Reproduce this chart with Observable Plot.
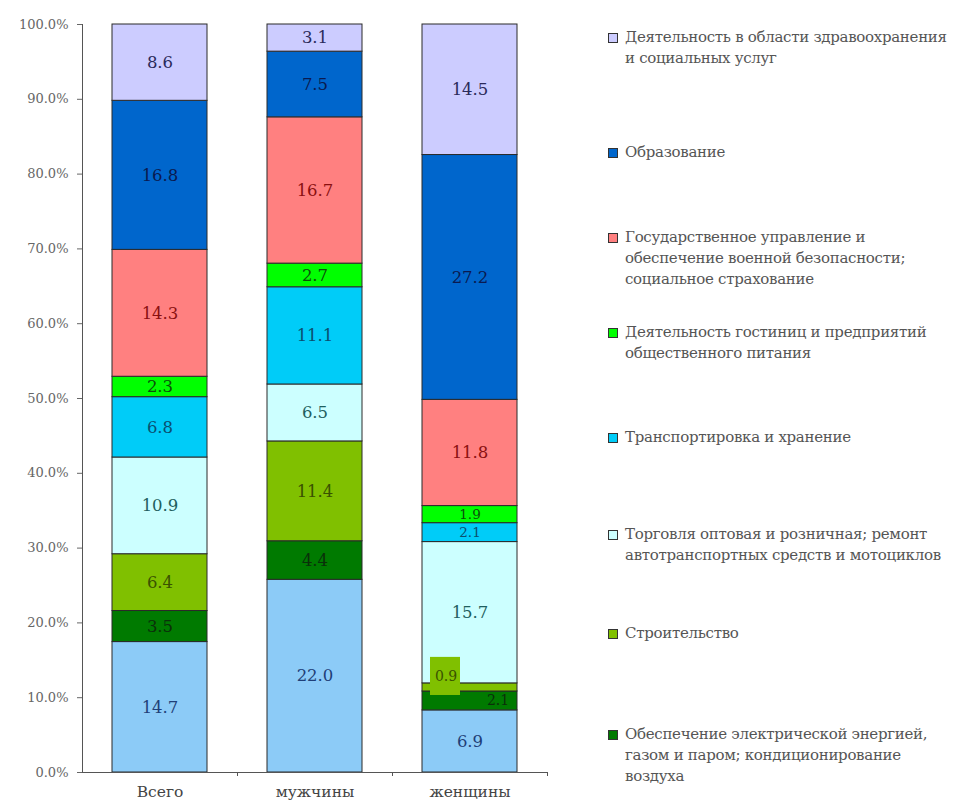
<!DOCTYPE html>
<html><head><meta charset="utf-8">
<script src="https://cdn.jsdelivr.net/npm/d3@7"></script>
<script src="https://cdn.jsdelivr.net/npm/@observablehq/plot@0.6"></script>
<style>
body{margin:0;background:#fff;}
#wrap{position:relative;width:957px;height:807px;font-family:"DejaVu Serif","Liberation Serif",serif;background:#fff;}
#chart{position:absolute;left:0;top:0;}
#chart svg text{font-family:"DejaVu Serif","Liberation Serif",serif;}
.leg{position:absolute;left:607px;font-size:15px;color:#555;line-height:21px;letter-spacing:-0.3px;}
.leg .sw{position:absolute;left:1px;top:6px;width:8px;height:8px;border:1px solid #333;}
.leg .tx{margin-left:18px;white-space:nowrap;}
</style></head>
<body><div id="wrap"><div id="chart"></div><div id="legend"></div></div>
<script>
// Groups (x categories)
const groups = ["Всего", "мужчины", "женщины"];
// Categories in stacking order (bottom to top)
const categories = [
  "Обрабатывающие производства",
  "Обеспечение электрической энергией, газом и паром; кондиционирование воздуха",
  "Строительство",
  "Торговля оптовая и розничная; ремонт автотранспортных средств и мотоциклов",
  "Транспортировка и хранение",
  "Деятельность гостиниц и предприятий общественного питания",
  "Государственное управление и обеспечение военной безопасности; социальное страхование",
  "Образование",
  "Деятельность в области здравоохранения и социальных услуг"
];
// Series values
const valuesTotal = [14.7, 3.5, 6.4, 10.9, 6.8, 2.3, 14.3, 16.8, 8.6];
const valuesMen   = [22.0, 4.4, 11.4, 6.5, 11.1, 2.7, 16.7, 7.5, 3.1];
const valuesWomen = [6.9, 2.1, 0.9, 15.7, 2.1, 1.9, 11.8, 27.2, 14.5];
// Colors
const fillColors  = ["#8ccbf7", "#007a00", "#80c000", "#ccffff", "#00ccf8", "#00ff00", "#ff8080", "#0066cc", "#ccccff"];
const labelColors = ["#1f3f78", "#0a300a", "#3a5200", "#1f5f60", "#0a5070", "#0a500a", "#8a1010", "#0a1a50", "#2a2a5a"];
// Y tick values
const yTicks = [0, 0.1, 0.2, 0.3, 0.4, 0.5, 0.6, 0.7, 0.8, 0.9, 1.0];
// Legend (top to bottom), each with its lines
const legendCats = [8, 7, 6, 5, 4, 3, 2, 1];
const legendLines = [
  ["Деятельность в области здравоохранения", "и социальных услуг"],
  ["Образование"],
  ["Государственное управление и", "обеспечение военной безопасности;", "социальное страхование"],
  ["Деятельность гостиниц и предприятий", "общественного питания"],
  ["Транспортировка и хранение"],
  ["Торговля оптовая и розничная; ремонт", "автотранспортных средств и мотоциклов"],
  ["Строительство"],
  ["Обеспечение электрической энергией,", "газом и паром; кондиционирование", "воздуха"]
];
const legendTops = [27, 142, 227, 322, 427, 524, 623, 724];

const series = [valuesTotal, valuesMen, valuesWomen];
const data = [];
groups.forEach((g, gi) => categories.forEach((c, ci) => data.push({group: g, cat: c, ci, value: series[gi][ci]})));

const isBox = d => d.group === "женщины" && d.ci === 2;
const isRight = d => d.group === "женщины" && d.ci === 1;
const isTight = d => d.group === "женщины" && (d.ci === 4 || d.ci === 5);
const fmt = d3.format(".1f");
const st = o => Plot.stackY({offset: "normalize"}, {x: "group", y: "value", z: "cat", ...o});

const plot = Plot.plot({
  width: 560, height: 807,
  marginLeft: 82, marginRight: 13, marginTop: 24, marginBottom: 35,
  x: {domain: groups, paddingInner: 0.39, paddingOuter: 0.195, label: null},
  y: {domain: [0, 1], label: null},
  style: {fontFamily: "DejaVu Serif, Liberation Serif, serif", background: "white"},
  marks: [
    Plot.barY(data, st({fill: d => fillColors[d.ci], stroke: "#2a2a2a", strokeWidth: 1})),
    Plot.barY(data, st({fill: "#80c000", fillOpacity: d => isBox(d) ? 1 : 0, insetLeft: 8, insetRight: 57, insetTop: -26, insetBottom: -4})),
    Plot.text(data, st({text: d => (isBox(d) || isRight(d) || isTight(d)) ? "" : fmt(d.value), fill: d => labelColors[d.ci], fontSize: 16.5})),
    Plot.text(data, st({text: d => isTight(d) ? fmt(d.value) : "", fill: d => labelColors[d.ci], fontSize: 13.5})),
    Plot.text(data, st({text: d => isBox(d) ? fmt(d.value) : "", fill: d => labelColors[d.ci], fontSize: 14, dx: -24, dy: -11})),
    Plot.text(data, st({text: d => isRight(d) ? fmt(d.value) : "", fill: d => labelColors[d.ci], fontSize: 14, dx: 28})),
    Plot.frame({anchor: "left", stroke: "#555"}),
    Plot.frame({anchor: "bottom", stroke: "#555"}),
    Plot.axisY({ticks: yTicks, tickFormat: d3.format(".1%"), tickSize: 5, tickPadding: 9, fontSize: 13, color: "#666"}),
    Plot.axisX({tickSize: 0, tickPadding: 13, fontSize: 15.5, color: "#444"}),
    Plot.axisX({tickSize: 4, dx: 77.5, tickFormat: () => "", color: "#555"})
  ]
});
document.getElementById("chart").appendChild(plot);

const leg = document.getElementById("legend");
legendCats.forEach((ci, i) => {
  const div = document.createElement("div");
  div.className = "leg";
  div.style.top = legendTops[i] + "px";
  const sw = document.createElement("div");
  sw.className = "sw";
  sw.style.background = fillColors[ci];
  div.appendChild(sw);
  const tx = document.createElement("div");
  tx.className = "tx";
  tx.innerHTML = legendLines[i].join("<br>");
  div.appendChild(tx);
  leg.appendChild(div);
});
</script></body></html>
